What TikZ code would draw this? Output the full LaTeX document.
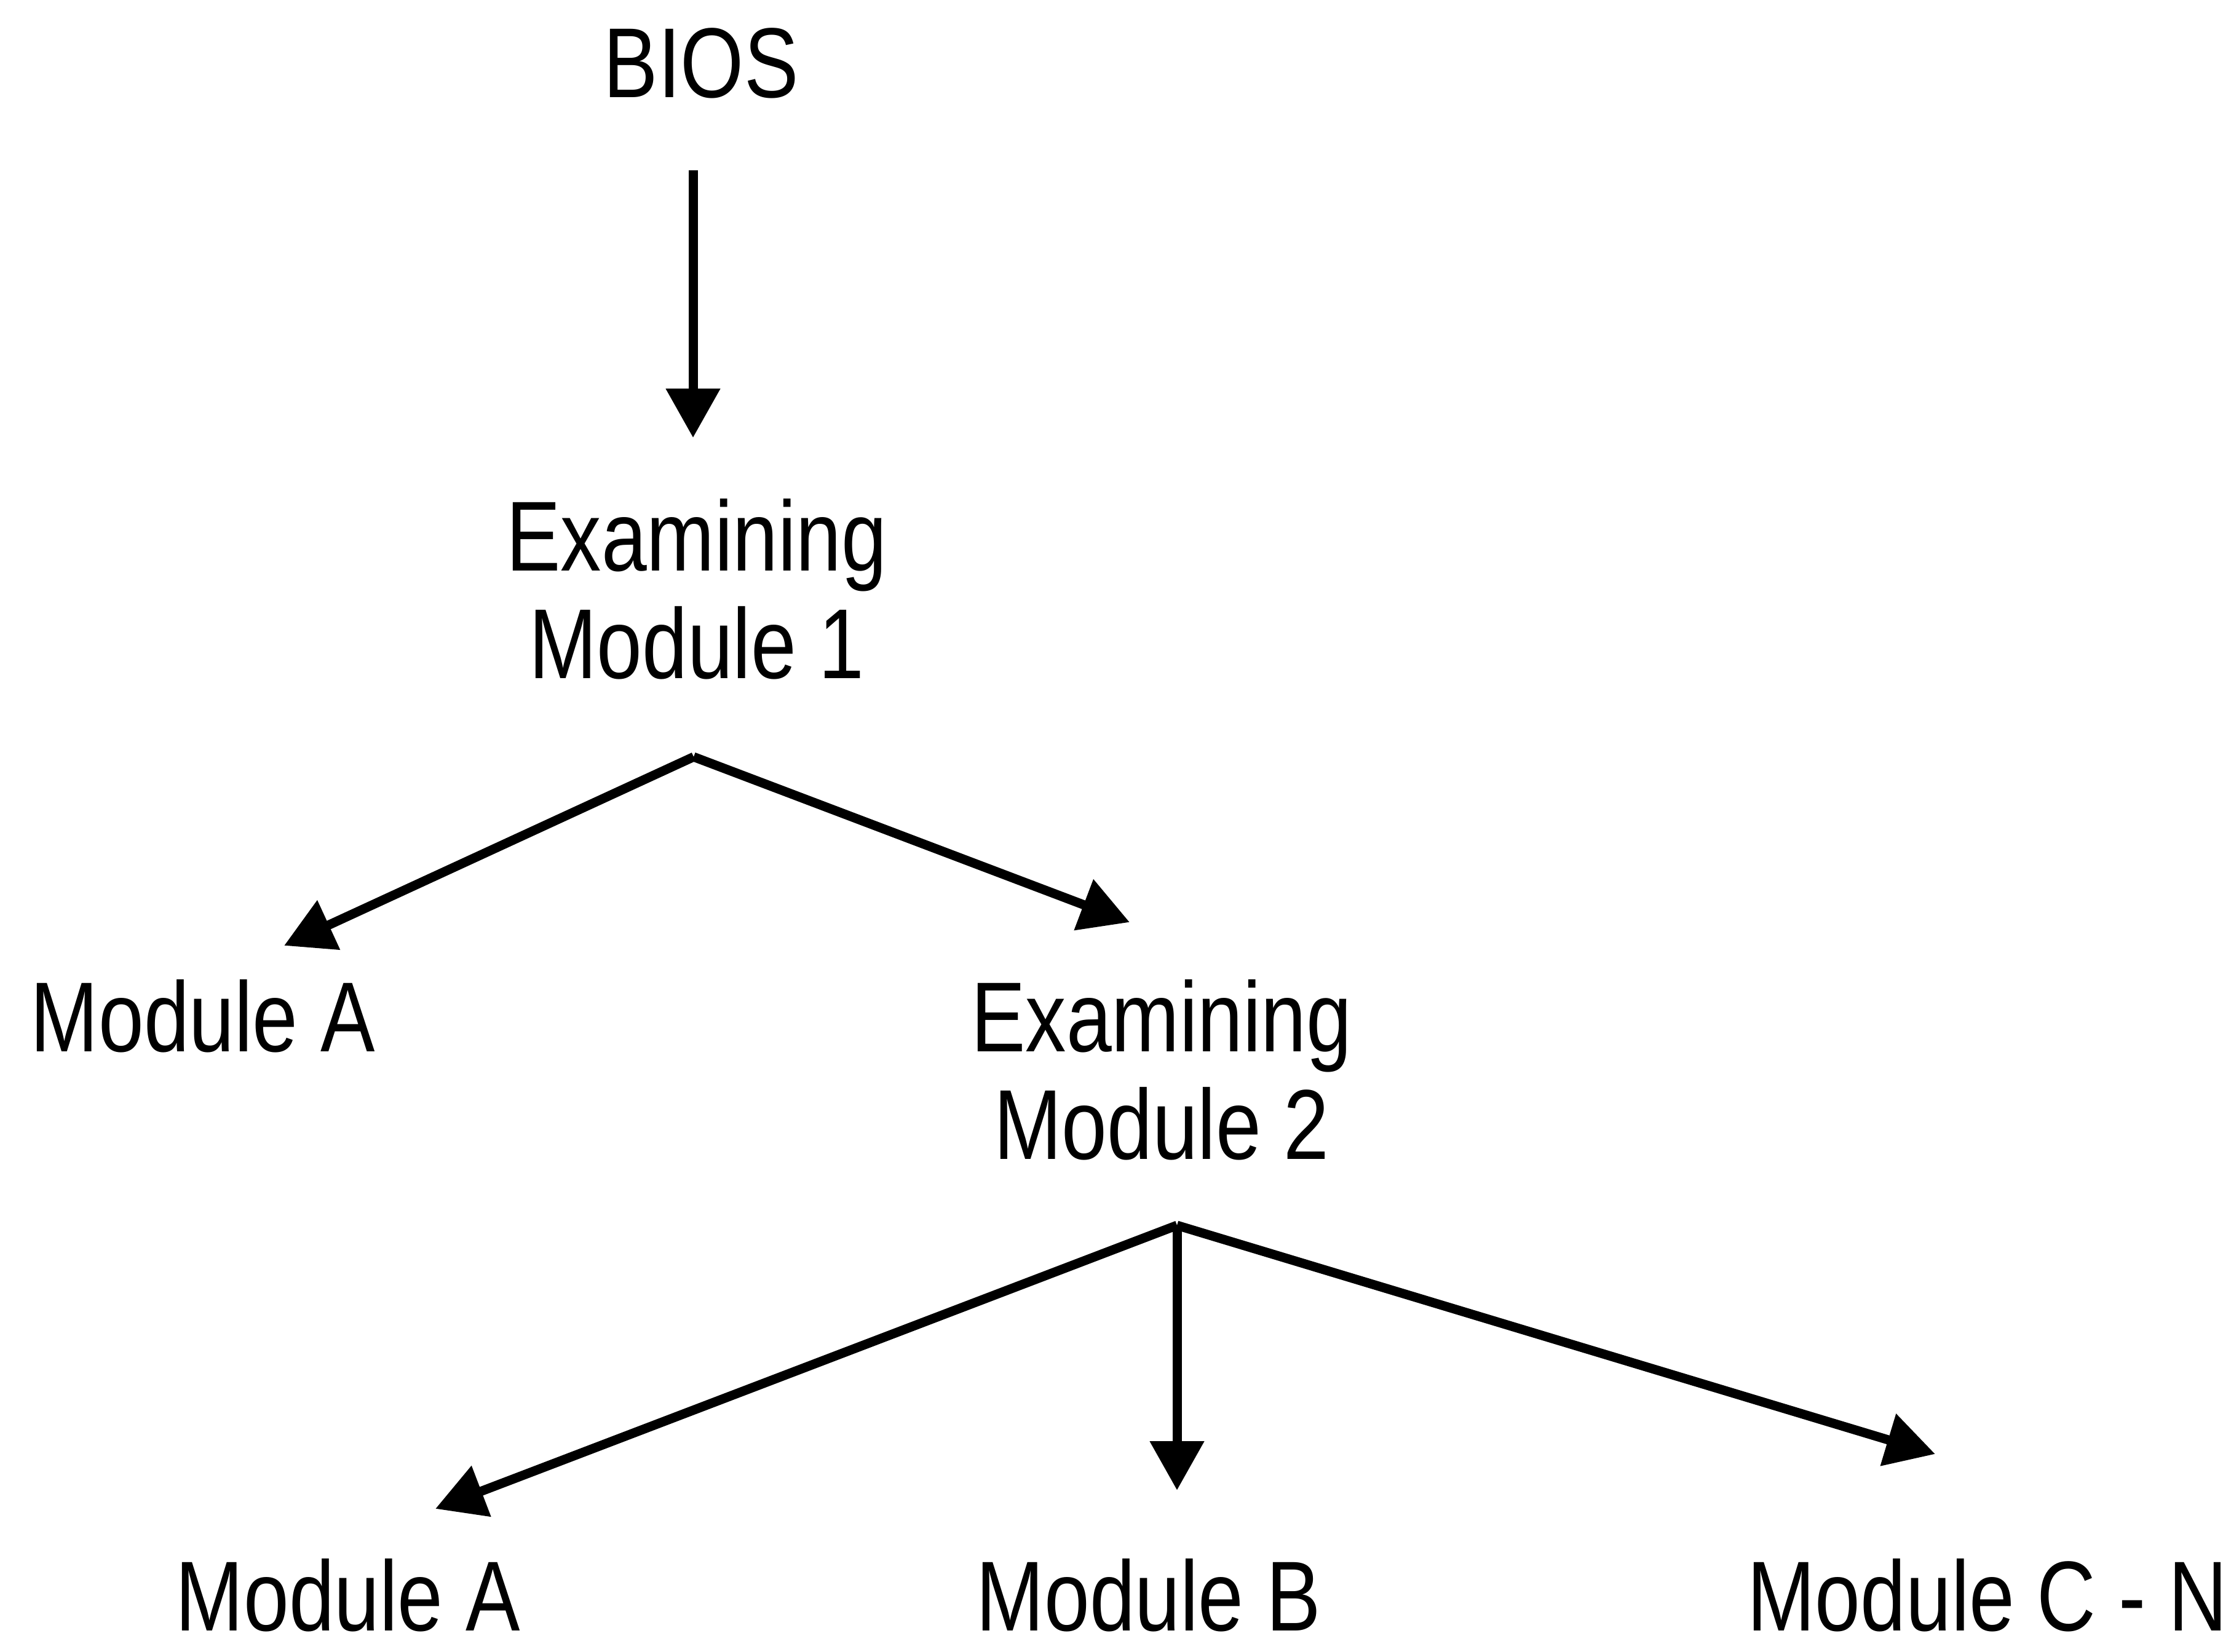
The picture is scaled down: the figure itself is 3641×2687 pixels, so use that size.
\documentclass[tikz,border=0pt]{standalone}
\usepackage{fontspec}
\setmainfont[FakeStretch=0.82]{Liberation Sans}
\usetikzlibrary{arrows.meta}
\tikzset{
  lbl/.style={font=\fontsize{46}{50}\selectfont, inner sep=0pt, anchor=base},
  conn/.style={line width=1.5mm, -{Triangle[length=8mm,width=8.5mm]}, line join=miter}
}
\newcommand{\twoline}[2]{\begin{tabular}[t]{@{}c@{}}#1\\#2\end{tabular}}
\begin{document}
\begin{tikzpicture}[x=0.1mm,y=-0.1mm]
\useasboundingbox (0,0) rectangle (3641,2687);
% labels
\node[lbl] (bios) at (1140,158) {BIOS};
\node[lbl] (ex1) at (1133,928) {\twoline{Examining}{Module 1}};
\node[lbl] (modA1) at (330,1710) {Module A};
\node[lbl] (ex2) at (1889,1710) {\twoline{Examining}{Module 2}};
\node[lbl] (modA2) at (566,2652) {Module A};
\node[lbl] (modB) at (1868,2652) {Module B};
\node[lbl] (modCN) at (3232,2652) {Module C - N};
% connector points
\coordinate (b0) at (1127,277);
\coordinate (b1) at (1127,712);
\coordinate (p1) at (1128,1231);
\coordinate (tA1) at (462,1538);
\coordinate (tE2) at (1837,1500);
\coordinate (p2) at (1914,1993);
\coordinate (tA2) at (708,2454);
\coordinate (tB) at (1914,2424);
\coordinate (tCN) at (3147,2365);
% connectors
\draw[conn] (b0) -- (b1);
\draw[conn] (p1) -- (tA1);
\draw[conn] (p1) -- (tE2);
\draw[conn] (p2) -- (tA2);
\draw[conn] (p2) -- (tB);
\draw[conn] (p2) -- (tCN);
\end{tikzpicture}
\end{document}
